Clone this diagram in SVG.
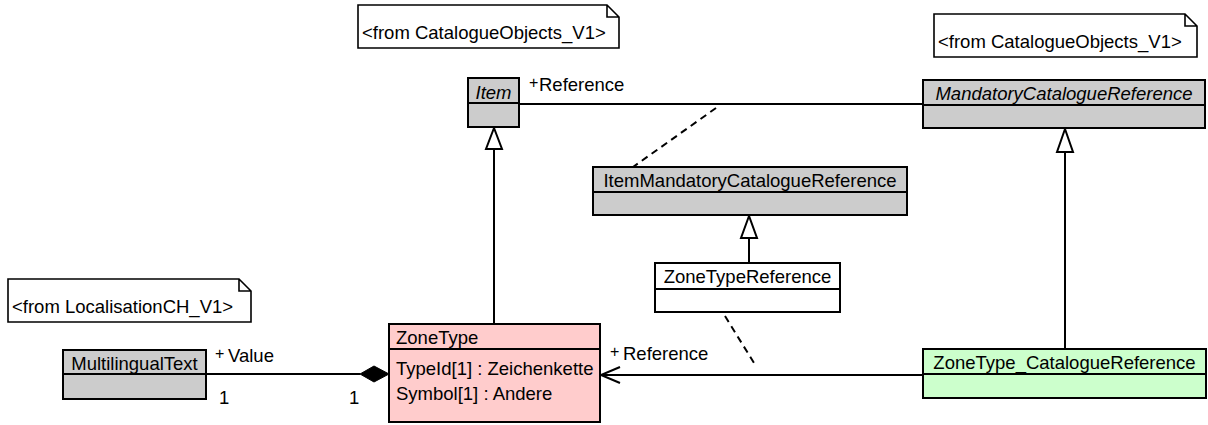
<svg xmlns="http://www.w3.org/2000/svg" width="1208" height="425" viewBox="0 0 1208 425">
<style>
  text { font-family: "Liberation Sans", Arial, sans-serif; font-size: 18.5px; fill: #000; }
  .box { stroke: #000; stroke-width: 2; }
  .gray { fill: #cccccc; }
  .white { fill: #ffffff; }
  .pink { fill: #ffcccc; }
  .green { fill: #ccffcc; }
  .note { fill: #ffffff; stroke: #000; stroke-width: 1.6; }
  .line { fill: none; stroke: #000; stroke-width: 2; }
  .dash { fill: none; stroke: #000; stroke-width: 2; stroke-dasharray: 7 5; }
  .tri { fill: #ffffff; stroke: #000; stroke-width: 2; stroke-linejoin: miter; }
  .mid { text-anchor: middle; }
  .it { font-style: italic; }
  .plus { font-size: 16px; }
</style>

<g id="note-catalogue-1">
  <path class="note" d="M358,5 H607 L619,17 V48 H358 Z M607,5 V17 H619"/>
  <text x="362" y="39">&lt;from CatalogueObjects_V1&gt;</text>
</g>
<g id="note-catalogue-2">
  <path class="note" d="M934,14 H1185 L1197,26 V57 H934 Z M1185,14 V26 H1197"/>
  <text x="938" y="48">&lt;from CatalogueObjects_V1&gt;</text>
</g>
<g id="note-localisation">
  <path class="note" d="M8,279 H239 L251,291 V322 H8 Z M239,279 V291 H251"/>
  <text x="12" y="313">&lt;from LocalisationCH_V1&gt;</text>
</g>

<g id="connectors">
  <line class="line" x1="519" y1="104" x2="923" y2="104"/>
  <text x="529" y="88" class="plus">+</text>
  <text x="539" y="91">Reference</text>
  <line class="dash" x1="716" y1="108" x2="633" y2="167"/>
  <line class="line" x1="494" y1="324" x2="494" y2="149"/>
  <path class="tri" d="M494,128 L486,149 L502,149 Z"/>
  <line class="line" x1="749" y1="263" x2="749" y2="238"/>
  <path class="tri" d="M749,216 L741,238 L757,238 Z"/>
  <line class="line" x1="1065" y1="349" x2="1065" y2="152"/>
  <path class="tri" d="M1065,129 L1057,152 L1073,152 Z"/>
  <line class="line" x1="923" y1="375" x2="601" y2="375"/>
  <path class="line" d="M620,367 L601,375 L620,383"/>
  <text x="610" y="357" class="plus">+</text>
  <text x="623" y="360">Reference</text>
  <line class="dash" x1="725" y1="316" x2="754" y2="363"/>
  <line class="line" x1="206" y1="374" x2="360" y2="374"/>
  <path d="M360,374 L374,366 L389,374 L374,382 Z" fill="#000" stroke="#000" stroke-width="1"/>
  <text x="215" y="359" class="plus">+</text>
  <text x="228" y="362">Value</text>
  <text x="219" y="404">1</text>
  <text x="349" y="404">1</text>
</g>

<g id="Item">
  <rect class="box gray" x="468" y="78" width="51" height="49"/>
  <line class="box" x1="468" y1="103" x2="519" y2="103"/>
  <text x="493.5" y="99" class="mid it">Item</text>
</g>

<g id="MandatoryCatalogueReference">
  <rect class="box gray" x="923" y="80" width="282" height="48"/>
  <line class="box" x1="923" y1="105" x2="1205" y2="105"/>
  <text x="1064" y="100" class="mid it">MandatoryCatalogueReference</text>
</g>

<g id="ItemMandatoryCatalogueReference">
  <rect class="box gray" x="593" y="167" width="314" height="48"/>
  <line class="box" x1="593" y1="192" x2="907" y2="192"/>
  <text x="750" y="187" class="mid">ItemMandatoryCatalogueReference</text>
</g>

<g id="ZoneTypeReference">
  <rect class="box white" x="655" y="263" width="185" height="49"/>
  <line class="box" x1="655" y1="289" x2="840" y2="289"/>
  <text x="747.5" y="283" class="mid">ZoneTypeReference</text>
</g>

<g id="MultilingualText">
  <rect class="box gray" x="63" y="350" width="143" height="49"/>
  <line class="box" x1="63" y1="374" x2="206" y2="374"/>
  <text x="134.5" y="370" class="mid">MultilingualText</text>
</g>

<g id="ZoneType">
  <rect class="box pink" x="389" y="324" width="211" height="98"/>
  <line class="box" x1="389" y1="349" x2="600" y2="349"/>
  <text x="396" y="344">ZoneType</text>
  <text x="396" y="375">TypeId[1] : Zeichenkette</text>
  <text x="396" y="400">Symbol[1] : Andere</text>
</g>

<g id="ZoneType_CatalogueReference">
  <rect class="box green" x="923" y="349" width="283" height="49"/>
  <line class="box" x1="923" y1="374" x2="1206" y2="374"/>
  <text x="1064.5" y="369" class="mid">ZoneType_CatalogueReference</text>
</g>
</svg>
